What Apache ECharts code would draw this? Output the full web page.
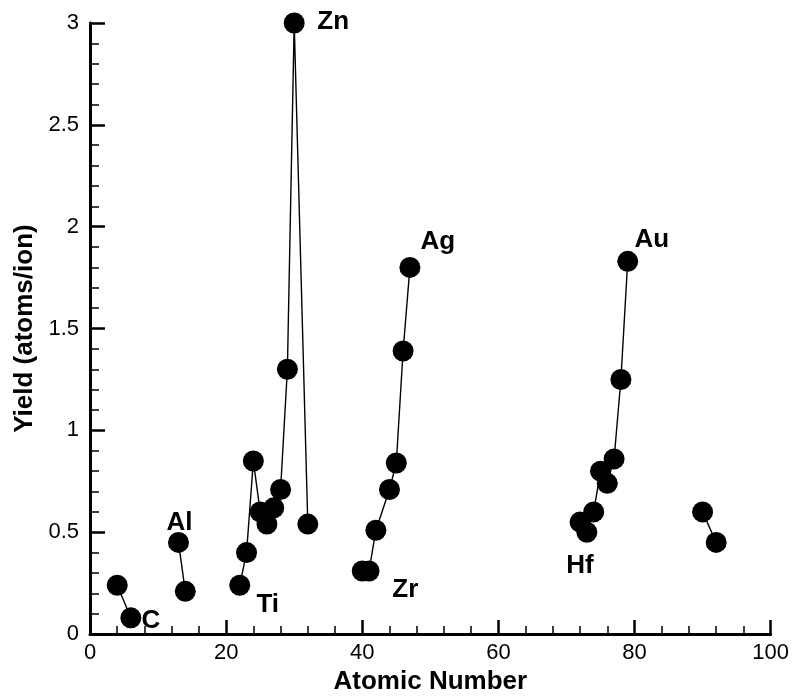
<!DOCTYPE html>
<html>
<head>
<meta charset="utf-8">
<script src="https://cdn.jsdelivr.net/npm/echarts@6/dist/echarts.min.js"></script>
<style>html,body{margin:0;padding:0;background:#fff}#c{width:792px;height:700px}</style>
</head>
<body>
<div id="c"></div>
<script>
// Data: atomic number (Z) and sputter yield (atoms/ion), grouped as in the original line segments
const groupBeC_Z = [4, 6];
const groupBeC_Y = [0.24, 0.08];
const groupAlSi_Z = [13, 14];
const groupAlSi_Y = [0.45, 0.21];
const groupTiGe_Z = [22, 23, 24, 25, 26, 27, 28, 29, 30, 32];
const groupTiGe_Y = [0.24, 0.40, 0.85, 0.60, 0.54, 0.62, 0.71, 1.30, 3.00, 0.54];
const groupZrAg_Z = [40, 41, 42, 44, 45, 46, 47];
const groupZrAg_Y = [0.31, 0.31, 0.51, 0.71, 0.84, 1.39, 1.80];
const groupHfAu_Z = [72, 73, 74, 75, 76, 77, 78, 79];
const groupHfAu_Y = [0.55, 0.50, 0.60, 0.80, 0.74, 0.86, 1.25, 1.83];
const groupThU_Z = [90, 92];
const groupThU_Y = [0.60, 0.45];

const labelZ = [6, 13, 22, 30, 40, 47, 72, 79];
const labelText = ['C', 'Al', 'Ti', 'Zn', 'Zr', 'Ag', 'Hf', 'Au'];

const xTicks = [0, 20, 40, 60, 80, 100];
const yTicks = [0, 0.5, 1, 1.5, 2, 2.5, 3];

// label placement (styling only)
const labelOffsets = {6: [20, 3], 13: [1, -20], 22: [28, 20], 30: [39, -1], 40: [43, 19], 47: [28, -26], 72: [0, 44], 79: [24, -22]};

const FONT = '"Liberation Sans", Arial, Helvetica, sans-serif';
const groups = [
  [groupBeC_Z, groupBeC_Y], [groupAlSi_Z, groupAlSi_Y], [groupTiGe_Z, groupTiGe_Y],
  [groupZrAg_Z, groupZrAg_Y], [groupHfAu_Z, groupHfAu_Y], [groupThU_Z, groupThU_Y]
];

const series = groups.map(([zs, ys]) => ({
  type: 'line',
  symbol: 'circle',
  symbolSize: 21,
  showAllSymbol: true,
  lineStyle: {color: '#000', width: 1.4},
  itemStyle: {color: '#000'},
  animation: false,
  data: zs.map((z, i) => {
    const li = labelZ.indexOf(z);
    const item = {value: [z, ys[i]]};
    if (li >= 0) {
      item.label = {
        show: true, formatter: labelText[li], position: 'inside',
        offset: labelOffsets[z], color: '#000', fontFamily: FONT,
        fontWeight: 'bold', fontSize: 26, align: 'center', verticalAlign: 'middle'
      };
    }
    return item;
  })
}));

const chart = echarts.init(document.getElementById('c'), null, {renderer: 'canvas'});
chart.setOption({
  animation: false,
  backgroundColor: '#fff',
  grid: {left: 90, right: 21, top: 23, bottom: 58, containLabel: false},
  xAxis: {
    type: 'value', min: xTicks[0], max: xTicks[xTicks.length - 1], interval: xTicks[1] - xTicks[0],
    name: 'Atomic Number', nameLocation: 'middle', nameGap: 34,
    nameTextStyle: {fontFamily: FONT, fontWeight: 'bold', fontSize: 26, color: '#000'},
    axisLine: {show: true, onZero: false, lineStyle: {color: '#000', width: 3}},
    axisTick: {show: true, inside: true, length: 14, lineStyle: {color: '#000', width: 2.5}},
    minorTick: {show: true, splitNumber: 5, length: 8, lineStyle: {color: '#000', width: 1.5}},
    splitLine: {show: false},
    axisLabel: {fontFamily: FONT, fontSize: 22, color: '#000', margin: 8}
  },
  yAxis: {
    type: 'value', min: yTicks[0], max: yTicks[yTicks.length - 1], interval: yTicks[1] - yTicks[0],
    name: 'Yield (atoms/ion)', nameLocation: 'middle', nameGap: 51,
    nameTextStyle: {fontFamily: FONT, fontWeight: 'bold', fontSize: 26, color: '#000'},
    axisLine: {show: true, onZero: false, lineStyle: {color: '#000', width: 3}},
    axisTick: {show: true, inside: true, length: 15, lineStyle: {color: '#000', width: 2.5}},
    minorTick: {show: true, splitNumber: 5, length: 9, lineStyle: {color: '#000', width: 1.5}},
    splitLine: {show: false},
    axisLabel: {fontFamily: FONT, fontSize: 22, color: '#000', margin: 11,
      formatter: v => String(v)}
  },
  series: series
});
</script>
</body>
</html>
